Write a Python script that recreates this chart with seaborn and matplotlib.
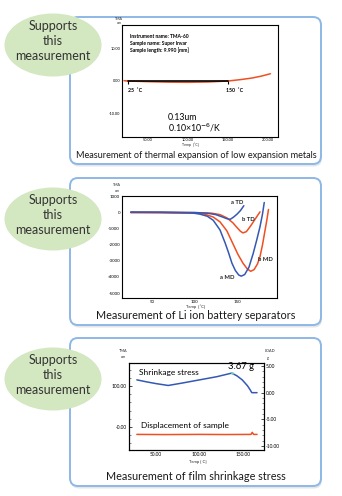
import numpy as np
import matplotlib
matplotlib.use("Agg")
import matplotlib.pyplot as plt
import seaborn as sns
from matplotlib.patches import FancyBboxPatch, Ellipse
from matplotlib.ticker import MultipleLocator

sns.set_theme(style="white")
plt.rcParams['font.family'] = ['Lato', 'DejaVu Sans']

W, H = 342, 496

# ---- Thermal expansion of Super Invar ----
invar_temp = [20, 25, 50, 75, 100, 125, 150, 165, 180, 192, 203]
invar_disp = [0.1, 0.0, -0.2, -0.35, -0.4, -0.3, 0.0, 0.4, 0.9, 1.5, 2.2]
invar_range_temp = [25, 150]
invar_range_disp = [0, 0]
invar_xticks = [50, 100, 150, 200]
invar_xlabels = ["50.00", "100.00", "150.00", "200.00"]
invar_yticks = [10, 0, -10]
invar_ylabels = ["10.00", "0.00", "-10.00"]

# ---- Li ion battery separators (TD / MD shrinkage) ----
a_td_temp = [25, 60, 100, 115, 125, 132, 138, 142, 146, 150, 154, 158]
a_td_disp = [0, 0, -20, -60, -150, -280, -400, -440, -300, -120, 100, 400]
b_td_temp = [25, 60, 100, 120, 130, 138, 145, 150, 154, 157, 161, 166, 171, 177]
b_td_disp = [-20, -20, -30, -60, -150, -350, -650, -950, -1180, -1280, -1200,
             -850, -450, 20]
a_md_temp = [25, 60, 95, 105, 115, 122, 130, 136, 140, 144, 148, 152, 155, 159,
             164, 169, 173, 177, 180, 182]
a_md_disp = [0, -10, -40, -100, -250, -500, -1100, -1900, -2500, -3150, -3600,
             -3880, -3950, -3850, -3400, -2550, -1750, -900, -100, 600]
b_md_temp = [25, 60, 100, 112, 122, 130, 138, 145, 151, 157, 162, 166, 170, 174,
             177, 180, 183, 185, 187]
b_md_disp = [-20, -30, -60, -120, -300, -600, -1150, -1930, -2600, -3150, -3500,
             -3650, -3550, -3200, -2750, -2000, -1100, -500, 170]
sep_xticks = [50, 100, 150]
sep_yticks = [1000, 0, -1000, -2000, -3000, -4000, -5000]

# ---- Film shrinkage stress ----
stress_temp = [28, 40, 50, 64, 80, 100, 120, 137, 143, 149, 155, 158, 160, 166]
stress_load = [2.4, 2.0, 1.7, 1.35, 1.8, 2.4, 3.0, 3.67, 3.15, 2.4, 1.3, 0.56,
               0.0, 0.0]
film_temp = [28, 60, 100, 130, 159, 160.5, 162, 166]
film_disp = [-18, -18.4, -18, -18.3, -18, -13, -18, -18]
film_xticks = [50, 100, 150]
film_xlabels = ["50.00", "100.00", "150.00"]
film_lticks = [100, 0]
film_llabels = ["100.00", "-0.00"]
film_rticks = [5, 0, -5, -10]
film_rlabels = ["5.00", "0.00", "-5.00", "-10.00"]

captions = ["Measurement of thermal expansion of low expansion metals",
            "Measurement of Li ion battery separators",
            "Measurement of film shrinkage stress"]

RED = "#f04e23"
BLUE = "#3558b4"
BOX_EDGE = "#8db8e6"
GREEN = "#d3e7c1"
TXT = "#333333"

fig = plt.figure(figsize=(W / 100, H / 100), dpi=100)
bg = fig.add_axes([0, 0, 1, 1])
bg.set_xlim(0, W)
bg.set_ylim(H, 0)
bg.axis("off")


def px_axes(l, t, r, b):
    return fig.add_axes([l / W, 1 - b / H, (r - l) / W, (b - t) / H])


def style_axes(ax, fs=3.2, pad=1.5):
    for s in ax.spines.values():
        s.set_color("black")
        s.set_linewidth(0.8)
        s.set_visible(True)
    ax.tick_params(direction="in", length=2.2, width=0.5, labelsize=fs,
                   pad=pad, colors="black")
    ax.tick_params(which="minor", direction="in", length=1.2, width=0.4)
    ax.set_xlabel("")
    ax.set_ylabel("")
    ax.set_facecolor("white")


# Panel frames, badges and captions
boxes = [(70, 17, 321, 164), (70, 178, 321, 325), (70, 338, 321, 486)]
badge_y = [45, 219, 379]
caption_y = [155, 315.5, 476.5]
caption_fs = [6.6, 7.8, 7.8]
for (l, t, r, b), ey, cy, cfs, cap in zip(boxes, badge_y, caption_y,
                                          caption_fs, captions):
    bg.add_patch(FancyBboxPatch((l + 1, t + 2.5), r - l, b - t,
                                boxstyle="round,pad=0,rounding_size=8",
                                fc="#cfcfcf", ec="none", alpha=0.5))
    bg.add_patch(FancyBboxPatch((l, t), r - l, b - t,
                                boxstyle="round,pad=0,rounding_size=8",
                                fc="white", ec=BOX_EDGE, lw=1.4))
    bg.add_patch(Ellipse((53, ey), 97, 63, fc=GREEN, ec="none"))
    bg.text(53, ey - 4, "Supports\nthis\nmeasurement", ha="center",
            va="center", fontsize=9, color=TXT, linespacing=1.25)
    bg.text(196, cy, cap, ha="center", va="center", fontsize=cfs,
            color="#1a1a1a")

# ---- Panel 1 ----
ax1 = px_axes(122, 25, 278, 137)
sns.lineplot(x=invar_temp, y=invar_disp, ax=ax1, color=RED, lw=1.1)
sns.lineplot(x=invar_range_temp, y=invar_range_disp, ax=ax1, color="black",
             lw=1.2)
ax1.plot(invar_range_temp, invar_range_disp, ls="none", marker=3, ms=2.5,
         mew=0.8, color="black")
ax1.set_xlim(17.5, 212.5)
ax1.set_ylim(-17, 17)
ax1.set_xticks(invar_xticks, invar_xlabels)
ax1.set_yticks(invar_yticks, invar_ylabels)
ax1.xaxis.set_minor_locator(MultipleLocator(10))
ax1.yaxis.set_minor_locator(MultipleLocator(2))
style_axes(ax1, fs=2.8, pad=1.0)
info = ["Instrument name: TMA-60", "Sample name: Super Invar",
        "Sample length: 9.990 [mm]"]
for yv, line in zip([13.6, 11.5, 9.5], info):
    ax1.text(27.5, yv, line, fontsize=3.6, fontweight="bold", va="center",
             color="black")
ax1.text(24.5, -2.8, "25  \u02daC", fontsize=3.8, fontweight="bold",
         va="center", color="black")
ax1.text(147, -2.8, "150  \u02daC", fontsize=3.8, fontweight="bold",
         va="center", color="black")
ax1.text(75, -11.2, "0.13um", fontsize=6.3, va="center", color="black")
ax1.text(75, -14.2, "0.10\u00d710$^{-6}$/K", fontsize=6.3, va="center",
         color="black")
bg.text(119, 19, "TMA", fontsize=2.6, ha="center", va="center")
bg.text(119, 22.5, "um", fontsize=2.6, ha="center", va="center")
bg.text(190, 145.2, "Temp  [\u02daC]", fontsize=2.6, ha="center",
        va="center")

# ---- Panel 2 ----
ax2 = px_axes(122, 196, 277, 298)
sns.lineplot(x=b_td_temp, y=b_td_disp, ax=ax2, color=RED, lw=1.1)
sns.lineplot(x=b_md_temp, y=b_md_disp, ax=ax2, color=RED, lw=1.1)
sns.lineplot(x=a_td_temp, y=a_td_disp, ax=ax2, color=BLUE, lw=1.1)
sns.lineplot(x=a_md_temp, y=a_md_disp, ax=ax2, color=BLUE, lw=1.1)
ax2.set_xlim(14.7, 197)
ax2.set_ylim(-5300, 1000)
ax2.set_xticks(sep_xticks, [str(v) for v in sep_xticks])
ax2.set_yticks(sep_yticks, [str(v) for v in sep_yticks])
ax2.xaxis.set_minor_locator(MultipleLocator(10))
ax2.yaxis.set_minor_locator(MultipleLocator(200))
style_axes(ax2)
for (xv, yv, s) in [(150, 570, "a TD"), (163, -480, "b TD"),
                    (183, -2900, "b MD"), (139, -4060, "a MD")]:
    ax2.text(xv, yv, s, fontsize=4.2, fontweight="bold", ha="center",
             va="center", color="#222222")
bg.text(117, 185, "TMA", fontsize=2.6, ha="center", va="center")
bg.text(117, 190.5, "um", fontsize=2.6, ha="center", va="center")
bg.text(196, 307, "Temp  [\u02daC]", fontsize=3.0, ha="center", va="center")

# ---- Panel 3 ----
ax3 = px_axes(129, 363, 264, 450)
ax3r = ax3.twinx()
sns.lineplot(x=film_temp, y=film_disp, ax=ax3, color=RED, lw=1.1)
sns.lineplot(x=stress_temp, y=stress_load, ax=ax3r, color=BLUE, lw=1.1)
peak = int(np.argmax(stress_load))
ax3r.plot([stress_temp[peak]], [stress_load[peak]], ls="none", marker="o",
          ms=2, color="#6fd0c8", mec="none")
ax3.set_xlim(19, 174)
ax3.set_ylim(-56, 156)
ax3r.set_ylim(-10.74, 5.56)
ax3.set_xticks(film_xticks, film_xlabels)
ax3.set_yticks(film_lticks, film_llabels)
ax3r.set_yticks(film_rticks, film_rlabels)
ax3.xaxis.set_minor_locator(MultipleLocator(10))
ax3.yaxis.set_minor_locator(MultipleLocator(20))
ax3r.yaxis.set_minor_locator(MultipleLocator(1))
style_axes(ax3, fs=3.4)
style_axes(ax3r, fs=3.4)
ax3r.text(30.5, 3.7, "Shrinkage stress", fontsize=6.0, va="center",
          color="black")
ax3r.text(133, 4.85, f"{stress_load[peak]:.2f} g", fontsize=6.8,
          va="center", color="black")
ax3r.text(32.8, -6.1, "Displacement of sample", fontsize=6.0, va="center",
          color="black")
bg.text(123, 351, "TMA", fontsize=2.8, ha="center", va="center")
bg.text(123, 357.5, "um", fontsize=2.8, ha="center", va="center")
bg.text(270, 351, "LOAD", fontsize=2.8, ha="center", va="center")
bg.text(268, 357.5, "g", fontsize=2.8, ha="center", va="center")
bg.text(198, 462.5, "Temp [ C]", fontsize=3.0, ha="center", va="center")

fig.savefig("out.png", dpi=100)
